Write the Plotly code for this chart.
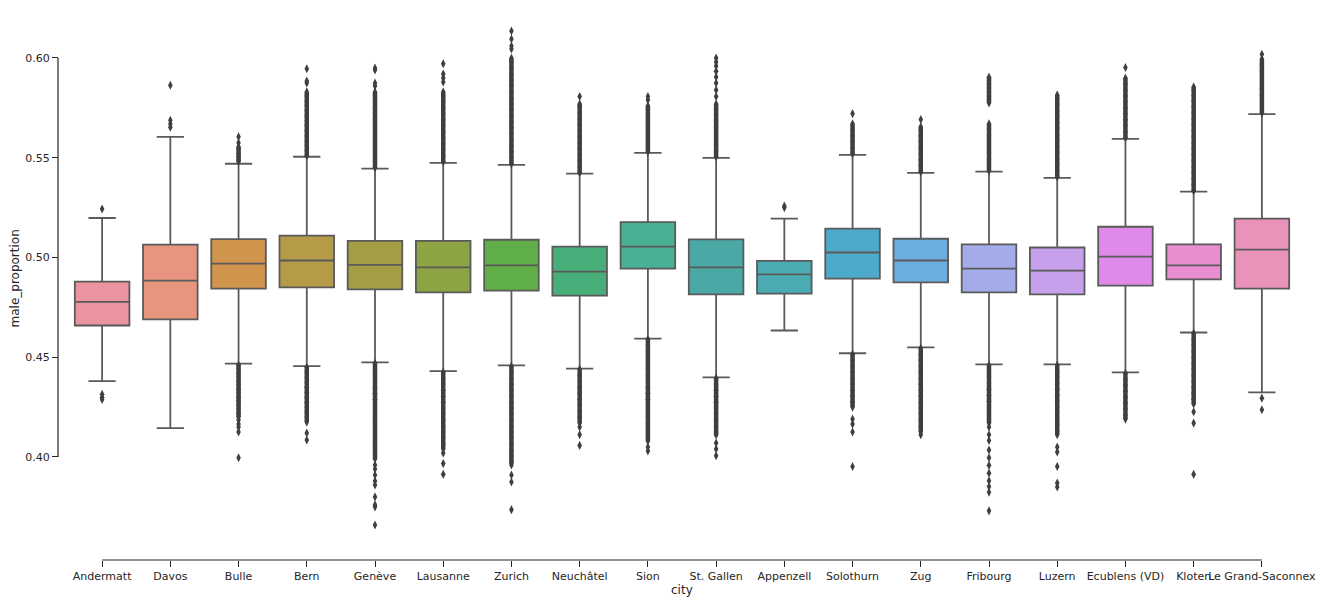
import plotly.graph_objects as go

cities = ["Andermatt", "Davos", "Bulle", "Bern", "Genève", "Lausanne", "Zurich",
          "Neuchâtel", "Sion", "St. Gallen", "Appenzell", "Solothurn", "Zug",
          "Fribourg", "Luzern", "Ecublens (VD)", "Kloten", "Le Grand-Saconnex"]

whisker_low = [0.4380, 0.4145, 0.4468, 0.4455, 0.4474, 0.4430, 0.4459, 0.4443, 0.4593,
               0.4399, 0.4634, 0.4520, 0.4549, 0.4464, 0.4464, 0.4424, 0.4624, 0.4324]
q1 = [0.4659, 0.4690, 0.4844, 0.4850, 0.4840, 0.4825, 0.4834, 0.4809, 0.4944,
      0.4815, 0.4819, 0.4894, 0.4875, 0.4825, 0.4815, 0.4859, 0.4890, 0.4844]
median = [0.4778, 0.4884, 0.4969, 0.4985, 0.4963, 0.4950, 0.4960, 0.4929, 0.5054,
          0.4950, 0.4915, 0.5025, 0.4985, 0.4944, 0.4934, 0.5004, 0.4960, 0.5039]
q3 = [0.4879, 0.5064, 0.5092, 0.5110, 0.5083, 0.5083, 0.5089, 0.5054, 0.5177,
      0.5091, 0.4983, 0.5145, 0.5094, 0.5066, 0.5050, 0.5154, 0.5066, 0.5195]
whisker_high = [0.5198, 0.5605, 0.5470, 0.5505, 0.5445, 0.5474, 0.5464, 0.5420, 0.5524,
                0.5499, 0.5195, 0.5514, 0.5424, 0.5430, 0.5399, 0.5595, 0.5330, 0.5719]

outliers_andermatt = [0.5243, 0.4314, 0.4300, 0.4288]
outliers_davos = [0.5863, 0.5688, 0.5669, 0.5653]
outliers_bulle = [0.5605, 0.5575, 0.5555, 0.5540, 0.5520, 0.5505, 0.5490, 0.5480,
                  0.4460, 0.4440, 0.4420, 0.4400, 0.4380, 0.4360, 0.4340, 0.4320, 0.4300,
                  0.4280, 0.4260, 0.4240, 0.4220, 0.4200, 0.4185, 0.4165, 0.4150, 0.4125, 0.3996]
outliers_bern = [0.5510, 0.5535, 0.5560, 0.5585, 0.5610, 0.5635, 0.5660, 0.5685, 0.5710,
                 0.5735, 0.5760, 0.5785, 0.5810, 0.5830, 0.5875, 0.5885, 0.5946,
                 0.4450, 0.4425, 0.4400, 0.4375, 0.4350, 0.4325, 0.4300, 0.4275, 0.4250,
                 0.4225, 0.4200, 0.4175, 0.4120, 0.4085]
outliers_geneve = [0.5450, 0.5480, 0.5510, 0.5540, 0.5570, 0.5600, 0.5630, 0.5660, 0.5690,
                   0.5720, 0.5750, 0.5780, 0.5810, 0.5830, 0.5860, 0.5875, 0.5940, 0.5950,
                   0.4470, 0.4440, 0.4410, 0.4380, 0.4350, 0.4320, 0.4290, 0.4260, 0.4230,
                   0.4200, 0.4170, 0.4140, 0.4110, 0.4080, 0.4050, 0.4020, 0.3990, 0.3960,
                   0.3940, 0.3910, 0.3880, 0.3860, 0.3800, 0.3760, 0.3750, 0.3659]
outliers_lausanne = [0.5480, 0.5510, 0.5540, 0.5570, 0.5600, 0.5630, 0.5660, 0.5690, 0.5720,
                     0.5750, 0.5780, 0.5810, 0.5830, 0.5880, 0.5900, 0.5920, 0.5971,
                     0.4425, 0.4395, 0.4365, 0.4335, 0.4305, 0.4275, 0.4245, 0.4215, 0.4185,
                     0.4155, 0.4125, 0.4095, 0.4065, 0.4040, 0.4020, 0.3967, 0.3913]
outliers_zurich = [0.5470, 0.5500, 0.5530, 0.5560, 0.5590, 0.5620, 0.5650, 0.5680, 0.5710,
                   0.5740, 0.5770, 0.5800, 0.5830, 0.5860, 0.5890, 0.5920, 0.5950, 0.5980,
                   0.6000, 0.6045, 0.6060, 0.6095, 0.6135,
                   0.4455, 0.4425, 0.4395, 0.4365, 0.4335, 0.4305, 0.4275, 0.4245, 0.4215,
                   0.4185, 0.4155, 0.4125, 0.4095, 0.4065, 0.4035, 0.4005, 0.3975, 0.3960,
                   0.3910, 0.3875, 0.3736]
outliers_neuchatel = [0.5425, 0.5455, 0.5485, 0.5515, 0.5545, 0.5575, 0.5605, 0.5635, 0.5665,
                      0.5695, 0.5725, 0.5755, 0.5770, 0.5807,
                      0.4440, 0.4410, 0.4380, 0.4350, 0.4320, 0.4290, 0.4260, 0.4230, 0.4200,
                      0.4170, 0.4150, 0.4112, 0.4058]
outliers_sion = [0.5530, 0.5560, 0.5590, 0.5620, 0.5650, 0.5680, 0.5710, 0.5740, 0.5760,
                 0.5790, 0.5807,
                 0.4590, 0.4560, 0.4530, 0.4500, 0.4470, 0.4440, 0.4410, 0.4380, 0.4350,
                 0.4320, 0.4290, 0.4260, 0.4230, 0.4200, 0.4170, 0.4140, 0.4110, 0.4080,
                 0.4050, 0.4030]
outliers_stgallen = [0.5505, 0.5535, 0.5565, 0.5595, 0.5625, 0.5655, 0.5685, 0.5715, 0.5745,
                     0.5770, 0.5807, 0.5840, 0.5875, 0.5905, 0.5933, 0.5960, 0.5980, 0.6000,
                     0.4395, 0.4365, 0.4335, 0.4305, 0.4275, 0.4245, 0.4215, 0.4185, 0.4155,
                     0.4125, 0.4110, 0.4070, 0.4040, 0.4006]
outliers_appenzell = [0.5258, 0.5250]
outliers_solothurn = [0.5520, 0.5550, 0.5580, 0.5610, 0.5640, 0.5670, 0.5721,
                      0.4515, 0.4485, 0.4455, 0.4425, 0.4395, 0.4365, 0.4335, 0.4305, 0.4275,
                      0.4250, 0.4190, 0.4165, 0.4125, 0.3952]
outliers_zug = [0.5430, 0.5460, 0.5490, 0.5520, 0.5550, 0.5580, 0.5610, 0.5640, 0.5655, 0.5692,
                0.4545, 0.4515, 0.4485, 0.4455, 0.4425, 0.4395, 0.4365, 0.4335, 0.4305,
                0.4275, 0.4245, 0.4215, 0.4185, 0.4155, 0.4125, 0.4112]
outliers_fribourg = [0.5435, 0.5465, 0.5495, 0.5525, 0.5555, 0.5585, 0.5615, 0.5645, 0.5670,
                     0.5775, 0.5790, 0.5810, 0.5830, 0.5850, 0.5870, 0.5890, 0.5904,
                     0.4460, 0.4430, 0.4400, 0.4370, 0.4340, 0.4310, 0.4280, 0.4250, 0.4220,
                     0.4190, 0.4170, 0.4150, 0.4112, 0.4083, 0.4035, 0.3996, 0.3958, 0.3919,
                     0.3881, 0.3852, 0.3823, 0.3730]
outliers_luzern = [0.5405, 0.5435, 0.5465, 0.5495, 0.5525, 0.5555, 0.5585, 0.5615, 0.5645,
                   0.5675, 0.5705, 0.5735, 0.5765, 0.5795, 0.5815,
                   0.4460, 0.4430, 0.4400, 0.4370, 0.4340, 0.4310, 0.4280, 0.4250, 0.4220,
                   0.4190, 0.4160, 0.4130, 0.4112, 0.4050, 0.4025, 0.3952, 0.3870, 0.3850]
outliers_ecublens = [0.5600, 0.5630, 0.5660, 0.5690, 0.5720, 0.5750, 0.5780, 0.5810, 0.5840,
                     0.5870, 0.5900, 0.5952,
                     0.4420, 0.4390, 0.4360, 0.4330, 0.4300, 0.4270, 0.4240, 0.4210, 0.4190]
outliers_kloten = [0.5335, 0.5365, 0.5395, 0.5425, 0.5455, 0.5485, 0.5515, 0.5545, 0.5575,
                   0.5605, 0.5635, 0.5665, 0.5695, 0.5725, 0.5755, 0.5785, 0.5815, 0.5840,
                   0.5855,
                   0.4620, 0.4590, 0.4560, 0.4530, 0.4500, 0.4470, 0.4440, 0.4410, 0.4380,
                   0.4350, 0.4320, 0.4290, 0.4266, 0.4227, 0.4170, 0.3913]
outliers_grandsaconnex = [0.5725, 0.5755, 0.5785, 0.5815, 0.5845, 0.5875, 0.5905, 0.5935,
                          0.5965, 0.5995, 0.6019, 0.4295, 0.4237]

outliers = [outliers_andermatt, outliers_davos, outliers_bulle, outliers_bern, outliers_geneve,
            outliers_lausanne, outliers_zurich, outliers_neuchatel, outliers_sion,
            outliers_stgallen, outliers_appenzell, outliers_solothurn, outliers_zug,
            outliers_fribourg, outliers_luzern, outliers_ecublens, outliers_kloten,
            outliers_grandsaconnex]

# stretches where thousands of outliers overlap into a solid column: (city index, low, high)
dense_city = [2, 2, 3, 3, 4, 4, 5, 5, 6, 6, 7, 7, 8, 8, 9, 9, 11, 11, 12, 12,
              13, 13, 13, 14, 14, 15, 15, 16, 16, 17]
dense_low = [0.5480, 0.4200, 0.5505, 0.4175, 0.5445, 0.3990, 0.5474, 0.4040, 0.5464, 0.3965,
             0.5420, 0.4170, 0.5524, 0.4080, 0.5499, 0.4110, 0.5514, 0.4250, 0.5424, 0.4125,
             0.5430, 0.5775, 0.4170, 0.5399, 0.4112, 0.5595, 0.4190, 0.5330, 0.4266, 0.5725]
dense_high = [0.5555, 0.4468, 0.5830, 0.4455, 0.5830, 0.4474, 0.5830, 0.4430, 0.6000, 0.4459,
              0.5770, 0.4443, 0.5760, 0.4593, 0.5770, 0.4399, 0.5670, 0.4520, 0.5655, 0.4549,
              0.5670, 0.5904, 0.4464, 0.5815, 0.4464, 0.5900, 0.4424, 0.5855, 0.4624, 0.5995]

colors = ["#E9949F", "#E7957E", "#D0944C", "#B59B47", "#A39E46", "#8CA443", "#60AE47",
          "#48AE79", "#49AF95", "#4AA9A5", "#4BABB3", "#4EAACA", "#6AAEE2", "#A3ACE9",
          "#C6A0EA", "#DF8AE8", "#E88DD0", "#E992BA"]

y_ticks = [0.40, 0.45, 0.50, 0.55, 0.60]
y_ticklabels = ["0.40", "0.45", "0.50", "0.55", "0.60"]

LINE = "#5a5a5a"
INK = "#262626"
FLIER = "#3f3f3f"

fig = go.Figure()
for i, c in enumerate(cities):
    fig.add_trace(go.Box(
        x=[i], q1=[q1[i]], median=[median[i]], q3=[q3[i]],
        lowerfence=[whisker_low[i]], upperfence=[whisker_high[i]],
        width=0.8, whiskerwidth=0.5, fillcolor=colors[i],
        line=dict(color=LINE, width=1.8), boxpoints=False,
        showlegend=False, hoverinfo="skip", name=c))

# solid columns of overlapping fliers
dx, dy = [], []
for ci, lo, hi in zip(dense_city, dense_low, dense_high):
    dx += [ci, ci, None]
    dy += [lo, hi, None]
fig.add_trace(go.Scatter(
    x=dx, y=dy, mode="lines", showlegend=False, hoverinfo="skip",
    line=dict(color=FLIER, width=4.5), connectgaps=False))

ox, oy = [], []
for i, vals in enumerate(outliers):
    ox += [i] * len(vals)
    oy += vals
fig.add_trace(go.Scatter(
    x=ox, y=oy, mode="markers", showlegend=False, hoverinfo="skip",
    marker=dict(symbol="diamond-tall", size=6.5, color=FLIER, line=dict(width=0))))

W, H = 1322, 604
ml, mr, mt, mb = 58, 26, 7, 44
pw = W - ml - mr
ph = H - mt - mb
off = 10

fig.update_layout(
    width=W, height=H, boxmode="overlay",
    margin=dict(l=ml, r=mr, t=mt, b=mb, autoexpand=False),
    paper_bgcolor="white", plot_bgcolor="white",
    font=dict(family="DejaVu Sans", size=11, color=INK),
    xaxis=dict(domain=[off / pw, 1], range=[-0.5, len(cities) - 0.5],
               anchor="free", position=0, showline=False, showgrid=False, zeroline=False,
               tickmode="array", tickvals=list(range(len(cities))), ticktext=cities,
               ticks="outside", ticklen=6, tickwidth=1.2, tickcolor=INK, tickangle=0,
               tickfont=dict(size=11, color=INK), automargin=False),
    yaxis=dict(domain=[off / ph, 1], range=[0.35338, 0.62556],
               anchor="free", position=0, showline=False, showgrid=False, zeroline=False,
               tickmode="array", tickvals=y_ticks, ticktext=y_ticklabels,
               ticks="outside", ticklen=6, tickwidth=1.2, tickcolor=INK,
               tickfont=dict(size=11, color=INK), automargin=False),
    shapes=[
        dict(type="line", xref="paper", yref="y", x0=0, x1=0, y0=y_ticks[0], y1=y_ticks[-1],
             line=dict(color=INK, width=1.2)),
        dict(type="line", xref="x", yref="paper", x0=0, x1=len(cities) - 1, y0=0, y1=0,
             line=dict(color=INK, width=1.2)),
    ],
    annotations=[
        dict(text="male_proportion", xref="paper", yref="paper",
             x=(14 - ml) / pw, y=(H - mb - 278.5) / ph, textangle=-90,
             showarrow=False, xanchor="center", yanchor="middle",
             font=dict(size=12, color=INK)),
        dict(text="city", xref="paper", yref="paper",
             x=(682 - ml) / pw, y=(H - mb - 590) / ph,
             showarrow=False, xanchor="center", yanchor="middle",
             font=dict(size=12, color=INK)),
    ],
)

fig.write_html("out.html", config={"displayModeBar": False},
               post_script="document.body.style.margin='0';document.body.style.overflow='hidden';")
